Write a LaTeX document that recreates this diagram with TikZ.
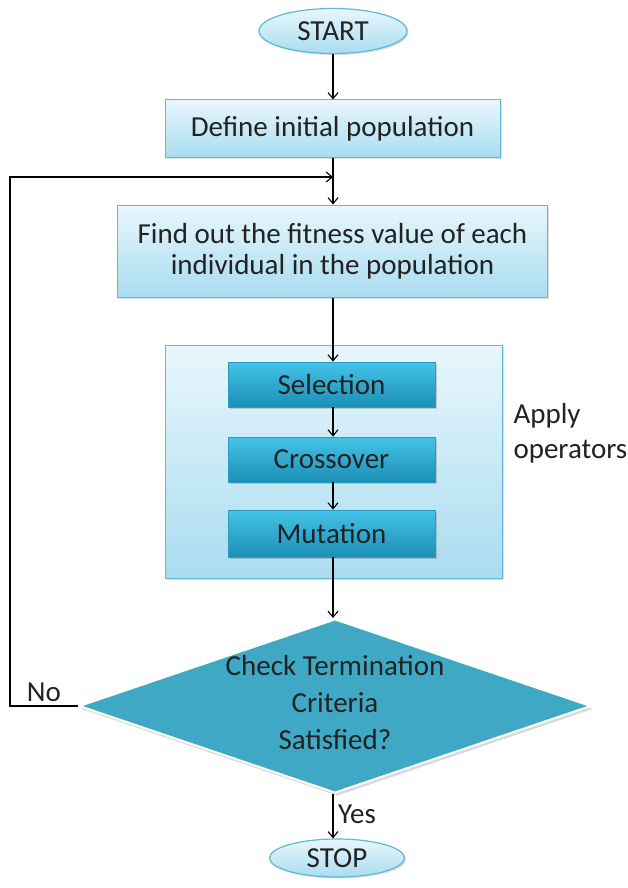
\documentclass[tikz,border=0pt]{standalone}
\usepackage{fontspec}
\setmainfont{Carlito}
\usetikzlibrary{shapes.geometric,arrows.meta,shadows}
\definecolor{lightTop}{HTML}{E8F7FC}
\definecolor{lightBot}{HTML}{A9DCF0}
\definecolor{lightBorder}{HTML}{5DB9D7}
\definecolor{darkTop}{HTML}{45C3E8}
\definecolor{darkBot}{HTML}{1C8FB6}
\definecolor{darkBorder}{HTML}{2A9CC2}
\definecolor{diamFill}{HTML}{3FA9C5}
\definecolor{txt}{HTML}{222222}
\begin{document}
\begin{tikzpicture}[x=1pt,y=-1pt,
  every node/.style={text=txt,font=\fontsize{29}{31}\selectfont},
  lightbox/.style={rectangle,draw=lightBorder,line width=1pt,top color=lightTop,bottom color=lightBot,
     inner sep=0pt,drop shadow={opacity=0.25,shadow xshift=1.5pt,shadow yshift=-1.5pt}},
  darkbox/.style={rectangle,draw=darkBorder,line width=0.8pt,top color=darkTop,bottom color=darkBot,
     inner sep=0pt,minimum width=207pt,drop shadow={opacity=0.35,shadow xshift=2pt,shadow yshift=-2pt}},
  term/.style={ellipse,draw=lightBorder,line width=1.2pt,top color=lightTop,bottom color=lightBot,
     inner sep=0pt,drop shadow={opacity=0.25,shadow xshift=1.5pt,shadow yshift=-1.5pt}},
  flow/.style={draw=black,line width=1.1pt,-{Straight Barb[length=6pt,width=10pt,line width=1.1pt]}},
  plain/.style={draw=black,line width=1.1pt}
]
\useasboundingbox (0,0) rectangle (628,888);

\node[term,minimum width=148pt,minimum height=45pt] (start) at (333,31) {START};
\node[lightbox,minimum width=335pt,minimum height=57pt] (define) at (332.5,128.5) {Define initial population};
\node[lightbox,minimum width=430pt,minimum height=92pt,align=center] (fit) at (332.5,251)
  {Find out the fitness value of each\\individual in the population};
\node[lightbox,minimum width=337pt,minimum height=233pt] (ops) at (333.5,461.5) {};
\node[darkbox,minimum height=45pt] (sel) at (331.5,384.5) {Selection};
\node[darkbox,minimum height=45pt] (cross) at (331.5,459.5) {Crossover};
\node[darkbox,minimum height=47pt] (mut) at (331.5,533.5) {Mutation};
\node[align=left,anchor=west,font=\fontsize{29}{35}\selectfont] (applylbl) at (510,433) {Apply\\operators};

\node[diamond,draw=white,line width=2pt,fill=diamFill,minimum width=512pt,minimum height=174pt,inner sep=0pt,
   drop shadow={opacity=0.3,shadow xshift=2pt,shadow yshift=-3pt}] (chk) at (335,706) {};
\node[align=center,font=\fontsize{29}{37}\selectfont] (chklbl) at (335,703)
  {Check Termination\\Criteria\\Satisfied?};

\node[term,minimum width=135pt,minimum height=38pt] (stop) at (337,858) {STOP};

\node (nolbl) at (44,692) {No};
\node (yeslbl) at (357,814) {Yes};

\coordinate (loopA) at (10,706);
\coordinate (loopB) at (10,177);
\coordinate (loopC) at (333,177);
\coordinate (trunk) at (333,0);

\draw[flow] (start.south -| trunk) -- (define.north -| trunk);
\draw[flow] (define.south -| trunk) -- (fit.north -| trunk);
\draw[flow] (fit.south -| trunk) -- (sel.north -| trunk);
\draw[flow] (sel.south -| trunk) -- (cross.north -| trunk);
\draw[flow] (cross.south -| trunk) -- (mut.north -| trunk);
\draw[flow] (mut.south -| trunk) -- (chk.north -| trunk);
\draw[flow] (chk.south -| trunk) -- (stop.north -| trunk);
\draw[flow] (chk.west) -- (loopA) -- (loopB) -- (loopC);
\end{tikzpicture}
\end{document}
